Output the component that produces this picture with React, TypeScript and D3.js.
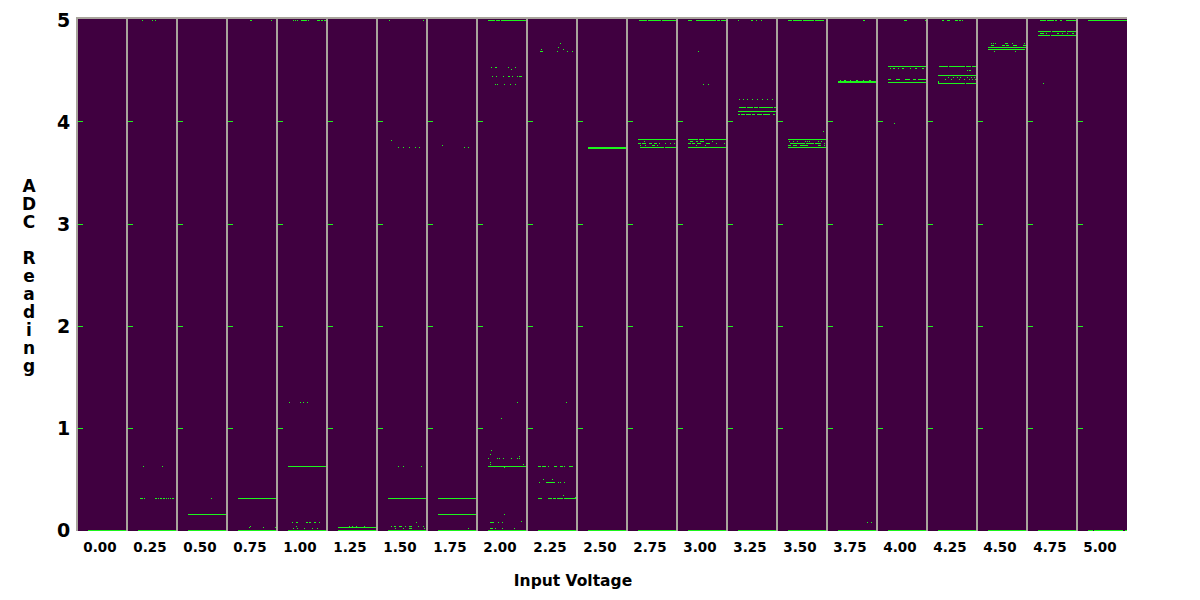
import React from "react";
import * as d3 from "d3";

// A run is [ADC reading (V), first sample, last sample] inside one voltage panel.
type Run = [number, number, number];

const VOLTAGES = ["0.00", "0.25", "0.50", "0.75", "1.00", "1.25", "1.50", "1.75", "2.00", "2.25", "2.50", "2.75", "3.00", "3.25", "3.50", "3.75", "4.00", "4.25", "4.50", "4.75", "5.00"];
const Y_TICKS = [0, 1, 2, 3, 4, 5];
const MARK_TICKS = [1, 2, 3, 4];
const X_TITLE = "Input Voltage";
const Y_TITLE = "ADC Reading";
const SAMPLES = 38;

const p000: Run[] = [[0, 0, 38]];
const p025: Run[] = [
  [0, 0, 38],
  [0.3125, 2, 2], [0.3125, 3, 3], [0.3125, 4, 4], [0.3125, 6, 6], [0.3125, 17, 18], [0.3125, 20, 20], [0.3125, 22, 23],
  [0.3125, 25, 26], [0.3125, 28, 28], [0.3125, 30, 30], [0.3125, 32, 32], [0.3125, 34, 35],
  [0.625, 5, 5], [0.625, 24, 24],
  [5, 4, 4], [5, 14, 14], [5, 17, 17],
];
const p050: Run[] = [[0, 0, 38], [0.156, 0, 38], [0.3125, 23, 23]];
const p075: Run[] = [
  [0, 0, 38], [0.3125, 0, 38],
  [0.02, 11, 11], [0.03, 12, 12], [0.02, 25, 25], [0.02, 37, 37],
  [5, 12, 13], [5, 33, 33],
];
const p100: Run[] = [
  [0, 0, 38], [0.625, 0, 38],
  [1.25, 1, 1], [1.25, 12, 12], [1.25, 15, 15], [1.25, 19, 19],
  [0.075, 4, 4], [0.075, 8, 9], [0.075, 18, 19], [0.075, 21, 22], [0.075, 26, 27], [0.075, 31, 31],
  [0.036, 8, 8],
  [0.01, 5, 5], [0.01, 9, 9], [0.01, 16, 16], [0.01, 24, 24], [0.01, 29, 29],
  [5, 5, 5], [5, 7, 7], [5, 9, 9], [5, 13, 18], [5, 20, 20], [5, 29, 31], [5, 33, 34], [5, 36, 38],
];
const p125: Run[] = [
  [0, 0, 38], [0.02, 0, 38],
  [0.039, 11, 11], [0.039, 14, 14], [0.039, 18, 18], [0.039, 26, 26],
];
const p150: Run[] = [
  [0, 0, 38], [0.3125, 0, 38],
  [0.625, 10, 10], [0.625, 15, 15], [0.625, 33, 33],
  [0.075, 28, 28],
  [0.036, 3, 3], [0.036, 6, 7], [0.036, 11, 13], [0.036, 17, 17], [0.036, 21, 21], [0.036, 22, 23], [0.036, 30, 30], [0.036, 35, 35],
  [0.01, 7, 7], [0.01, 15, 15], [0.01, 21, 23], [0.01, 36, 36],
  [5, 1, 1], [5, 35, 35],
  [3.82, 3, 3], [3.75, 10, 10], [3.75, 15, 15], [3.75, 21, 21], [3.75, 27, 27], [3.75, 31, 31],
];
const p175: Run[] = [
  [0, 0, 38], [0.3125, 0, 9], [0.3125, 10, 35], [0.3125, 36, 38],
  [0.156, 0, 12], [0.156, 13, 38], [0.01, 30, 30],
  [3.77, 4, 4], [3.75, 26, 26], [3.75, 30, 30],
];
const p200: Run[] = [
  [0, 0, 38], [0.625, 0, 38],
  [0.645, 2, 2], [0.66, 2, 2], [0.78, 3, 3], [0.742, 2, 2],
  [0.703, 0, 0], [0.703, 9, 9], [0.703, 11, 11], [0.703, 15, 15], [0.703, 23, 23], [0.703, 29, 29], [0.703, 31, 31],
  [0.72, 31, 31], [0.645, 35, 35], [0.615, 16, 16], [0.154, 16, 16], [0.085, 33, 33],
  [0.075, 2, 4], [0.075, 5, 5], [0.075, 10, 10], [0.075, 14, 14],
  [0.01, 2, 4], [0.01, 7, 7], [0.01, 14, 14], [0.01, 26, 26],
  [1.09, 13, 13], [1.25, 29, 29],
  [5, 0, 6], [5, 8, 11], [5, 13, 17], [5, 18, 27], [5, 28, 33], [5, 34, 38],
  [4.53, 3, 3], [4.53, 7, 8], [4.53, 20, 20], [4.53, 27, 27], [4.51, 23, 23],
  [4.45, 4, 4], [4.45, 8, 8], [4.45, 15, 15], [4.45, 20, 21], [4.45, 24, 24], [4.45, 29, 29], [4.45, 31, 33],
  [4.37, 7, 7], [4.37, 9, 9], [4.37, 16, 16], [4.37, 22, 22], [4.37, 27, 27],
];
const p225: Run[] = [
  [0, 0, 38],
  [0.625, 0, 2], [0.625, 4, 7], [0.625, 10, 10], [0.625, 16, 18], [0.625, 22, 24], [0.625, 26, 26], [0.625, 31, 33], [0.625, 34, 34],
  [0.497, 5, 5], [0.497, 14, 14],
  [0.468, 1, 1], [0.468, 8, 10], [0.468, 11, 16], [0.468, 20, 20], [0.468, 22, 22], [0.468, 26, 26],
  [0.336, 25, 25], [0.32, 37, 37],
  [0.3125, 0, 3], [0.3125, 10, 13], [0.3125, 15, 17], [0.3125, 19, 24], [0.3125, 26, 29], [0.3125, 30, 37],
  [1.25, 28, 28],
  [4.77, 22, 22], [4.73, 20, 20], [4.71, 3, 3], [4.71, 25, 25],
  [4.69, 2, 4], [4.69, 19, 19], [4.69, 29, 29], [4.69, 34, 34],
];
const p250: Run[] = [[0, 0, 38], [3.75, 0, 38], [3.745, 0, 38]];
const p275: Run[] = [
  [0, 0, 38],
  [5, 1, 8], [5, 10, 22], [5, 24, 38],
  [3.83, 0, 38], [3.81, 6, 6],
  [3.79, 0, 2], [3.79, 4, 7], [3.79, 11, 13], [3.79, 16, 18], [3.79, 21, 21], [3.79, 27, 27], [3.79, 32, 32], [3.79, 36, 36],
  [3.77, 2, 2], [3.77, 7, 7], [3.77, 14, 16], [3.77, 19, 19],
  [3.75, 2, 12], [3.75, 13, 25], [3.75, 27, 38],
];
const p300: Run[] = [
  [0, 0, 38],
  [5, 0, 3], [5, 8, 27], [5, 29, 31], [5, 33, 38],
  [4.69, 10, 10], [4.37, 15, 15], [4.37, 20, 20],
  [3.83, 0, 4], [3.83, 5, 9], [3.83, 11, 15], [3.83, 17, 29], [3.83, 30, 38],
  [3.81, 2, 4], [3.81, 8, 9], [3.81, 12, 15], [3.81, 24, 24],
  [3.79, 0, 2], [3.79, 4, 6], [3.79, 9, 12], [3.79, 18, 21], [3.79, 28, 28], [3.79, 36, 36],
  [3.77, 8, 8], [3.77, 17, 17],
  [3.75, 0, 38],
];
const p325: Run[] = [
  [0, 0, 38],
  [5, 0, 0], [5, 13, 14], [5, 18, 18], [5, 23, 23],
  [4.22, 1, 1], [4.22, 5, 5], [4.22, 9, 9], [4.22, 14, 14], [4.22, 19, 19], [4.22, 24, 24], [4.22, 29, 29], [4.22, 34, 34],
  [4.14, 1, 7], [4.14, 9, 11], [4.14, 12, 14], [4.14, 16, 19], [4.14, 21, 34], [4.14, 36, 38],
  [4.1, 0, 36], [4.1, 37, 37],
  [4.07, 0, 1], [4.07, 3, 4], [4.07, 5, 6], [4.07, 8, 12], [4.07, 14, 16], [4.07, 19, 23], [4.07, 25, 28], [4.07, 29, 31], [4.07, 35, 36], [4.07, 38, 38],
];
const p350: Run[] = [
  [0, 0, 38],
  [5, 0, 3], [5, 5, 8], [5, 9, 13], [5, 15, 22], [5, 23, 25], [5, 27, 29], [5, 30, 34], [5, 35, 35],
  [3.91, 35, 35],
  [3.83, 0, 12], [3.83, 13, 38],
  [3.81, 1, 1], [3.81, 5, 5], [3.81, 9, 9], [3.81, 17, 17], [3.81, 19, 19], [3.81, 21, 21], [3.81, 30, 30], [3.81, 33, 33],
  [3.79, 2, 7], [3.79, 8, 16], [3.79, 18, 25], [3.79, 27, 32], [3.79, 36, 36],
  [3.77, 0, 2], [3.77, 5, 8], [3.77, 12, 16], [3.77, 17, 19], [3.77, 30, 32], [3.77, 36, 36],
  [3.75, 0, 14], [3.75, 15, 26], [3.75, 27, 38],
];
const p375: Run[] = [
  [0, 0, 38],
  [5, 25, 26],
  [4.41, 2, 2], [4.41, 6, 7], [4.41, 12, 12], [4.41, 18, 19], [4.41, 25, 25], [4.41, 31, 32],
  [4.4, 0, 38], [4.385, 0, 38],
  [0.078, 29, 29], [0.078, 33, 33],
];
const p400: Run[] = [
  [0, 0, 38],
  [5, 16, 18], [5, 37, 38],
  [4.54, 0, 38],
  [4.52, 2, 2], [4.52, 5, 6], [4.52, 10, 10], [4.52, 14, 15], [4.52, 22, 22], [4.52, 27, 28], [4.52, 34, 35],
  [4.42, 0, 2], [4.42, 8, 11], [4.42, 17, 21], [4.42, 25, 27], [4.42, 30, 38],
  [4.39, 0, 9], [4.39, 10, 22], [4.39, 23, 38],
  [3.99, 6, 6],
];
const p425: Run[] = [
  [0, 0, 38],
  [5, 4, 5], [5, 9, 10], [5, 11, 11], [5, 17, 19], [5, 21, 22], [5, 24, 24],
  [4.54, 1, 7], [4.54, 8, 9], [4.54, 11, 15], [4.54, 16, 20], [4.54, 21, 26], [4.54, 28, 32], [4.54, 34, 38],
  [4.5, 29, 29], [4.5, 31, 32],
  [4.46, 0, 38],
  [4.44, 10, 10], [4.44, 15, 15], [4.44, 19, 19], [4.44, 22, 22], [4.44, 29, 29], [4.44, 33, 33], [4.44, 36, 36],
  [4.42, 7, 7], [4.42, 13, 13], [4.42, 21, 21], [4.42, 26, 26], [4.42, 31, 31], [4.42, 34, 34], [4.42, 37, 37],
  [4.4, 0, 0], [4.39, 0, 0],
  [4.38, 0, 17], [4.38, 18, 26], [4.38, 28, 38],
];
const p450: Run[] = [
  [0, 0, 38],
  [4.77, 3, 3], [4.77, 5, 5], [4.77, 7, 7], [4.77, 17, 19], [4.77, 24, 24], [4.77, 36, 36],
  [4.75, 3, 5], [4.75, 14, 16], [4.75, 18, 20], [4.75, 25, 28], [4.75, 35, 37],
  [4.73, 0, 38], [4.71, 0, 36],
  [4.69, 6, 6], [4.69, 27, 27],
];
const p475: Run[] = [
  [0, 0, 38],
  [5, 2, 7], [5, 9, 11], [5, 12, 15], [5, 17, 18], [5, 22, 23], [5, 28, 32], [5, 33, 35], [5, 36, 38],
  [4.89, 0, 12], [4.89, 14, 27], [4.89, 29, 38],
  [4.87, 2, 5], [4.87, 8, 8], [4.87, 19, 20], [4.87, 24, 24], [4.87, 29, 29], [4.87, 34, 35],
  [4.85, 0, 11], [4.85, 13, 38],
  [4.38, 5, 5],
];
const p500: Run[] = [[0, 0, 4], [0, 6, 34], [0, 37, 38], [5, 0, 38]];

const PANELS: Run[][] = [p000, p025, p050, p075, p100, p125, p150, p175, p200, p225, p250, p275, p300, p325, p350, p375, p400, p425, p450, p475, p500];

const BG = "#400040";
const GRID = "#a8a49c";
const GREEN = "#1cf51c";
const FONT = "'Comic Sans MS', 'DejaVu Sans', sans-serif";

export default function App() {
  const x = d3.scaleBand<string>().domain(VOLTAGES).range([77, 1127]).padding(0);
  const y = d3.scaleLinear().domain([0, 5]).range([530, 20]);
  const s = d3.scaleLinear().domain([0, SAMPLES]).range([11, 49]);
  const bw = x.bandwidth();
  const [top, bottom] = [y(5) - 2, y(0) + 1];

  return (
    <svg width={1200} height={600} style={{ position: "absolute", left: 0, top: 0, background: "#fff" }} fontFamily={FONT}>
      {VOLTAGES.map((v) => (
        <rect key={"bg" + v} x={x(v)!} y={top} width={bw} height={bottom - top} fill={BG} />
      ))}
      {VOLTAGES.map((v, k) => {
        const L = x(v)!;
        return (
          <g key={"p" + v} shapeRendering="crispEdges">
            {MARK_TICKS.map((t) => (
              <rect key={"t" + t} x={L + 1} y={Math.floor(y(t))} width={5} height={1} fill={GREEN} />
            ))}
            {PANELS[k].map(([val, a, b], i) => (
              <rect key={i} x={L + Math.round(s(a))} y={Math.floor(y(val))} width={Math.round(s(b)) - Math.round(s(a)) + 1} height={1} fill={GREEN} />
            ))}
          </g>
        );
      })}
      <g shapeRendering="crispEdges">
        {VOLTAGES.map((v) => (
          <rect key={"sep" + v} x={x(v)! - 1} y={top} width={2} height={bottom - top} fill={GRID} />
        ))}
        <rect x={x(VOLTAGES[0])! - 1} y={top - 1} width={x.range()[1] - x.range()[0] + 1} height={2} fill={GRID} />
      </g>
      {Y_TICKS.map((t) => (
        <text key={"yl" + t} x={63.5} y={y(t)} dy="0.36em" textAnchor="middle" fontSize={19} fontWeight="bold" fill="#000">
          {t}
        </text>
      ))}
      {VOLTAGES.map((v) => (
        <text key={"xl" + v} x={x(v)! + bw / 2 - 2} y={552} textAnchor="middle" fontSize={13.5} fontWeight="bold" fill="#000">
          {v}
        </text>
      ))}
      <text x={573} y={586} textAnchor="middle" fontSize={15.5} fontWeight="bold" fill="#000">
        {X_TITLE}
      </text>
      {Y_TITLE.split("").map((c, i) => (
        <text key={"yt" + i} x={29} y={192 + i * 18} textAnchor="middle" fontSize={17} fontWeight="bold" fill="#000">
          {c}
        </text>
      ))}
    </svg>
  );
}
